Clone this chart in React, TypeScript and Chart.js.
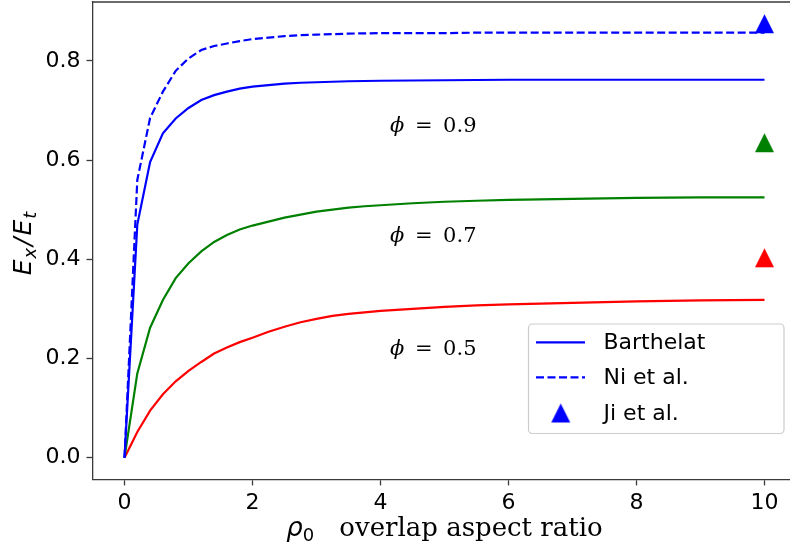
import { useEffect, useRef } from 'react';
import { Chart, registerables } from 'chart.js';

Chart.register(...registerables);

// Overlap aspect ratio samples (shared by all model curves)
const rho = [0, 0.2, 0.4, 0.6, 0.8, 1.0, 1.2, 1.4, 1.6, 1.8, 2.0, 2.25, 2.5, 2.75, 3.0, 3.25, 3.5, 3.75, 4.0, 4.5, 5.0, 5.5, 6.0, 7.0, 8.0, 9.0, 10.0];

// Barthelat model, normalised modulus E_x/E_t
const barthelat09 = [0, 0.47, 0.596, 0.654, 0.684, 0.705, 0.721, 0.731, 0.738, 0.744, 0.748, 0.751, 0.754, 0.756, 0.757, 0.758, 0.759, 0.7595, 0.760, 0.7605, 0.761, 0.7615, 0.762, 0.762, 0.762, 0.762, 0.762];
const barthelat07 = [0, 0.17, 0.262, 0.318, 0.362, 0.392, 0.416, 0.435, 0.449, 0.46, 0.468, 0.476, 0.484, 0.49, 0.496, 0.5, 0.504, 0.507, 0.509, 0.513, 0.516, 0.518, 0.52, 0.522, 0.524, 0.525, 0.525];
const barthelat05 = [0, 0.052, 0.095, 0.128, 0.154, 0.175, 0.193, 0.21, 0.222, 0.233, 0.242, 0.254, 0.264, 0.273, 0.28, 0.286, 0.29, 0.293, 0.296, 0.3, 0.304, 0.307, 0.309, 0.312, 0.315, 0.317, 0.318];

// Ni et al. model for phi = 0.9
const niEtAl09 = [0, 0.56, 0.685, 0.738, 0.78, 0.805, 0.822, 0.83, 0.835, 0.84, 0.844, 0.847, 0.85, 0.852, 0.853, 0.854, 0.855, 0.8555, 0.856, 0.856, 0.856, 0.857, 0.857, 0.857, 0.857, 0.857, 0.857];

// Ji et al. results at rho0 = 10 (phi = 0.9, 0.7, 0.5)
const jiX = 10;
const jiValues = [0.875, 0.635, 0.403];

const seriesColors = ['#0000ff', '#008000', '#ff0000'];

const xTicks = [0, 2, 4, 6, 8, 10];
const yTicks = [0, 0.2, 0.4, 0.6, 0.8];

const phiLabels = ['0.9', '0.7', '0.5'];
const phiY = [0.657, 0.434, 0.207];
const phiX = 4.15;

const legendLabels = ['Barthelat', 'Ni et al.', 'Ji et al.'];

const SPINE = '#3a3a3a';
const SANS = '"DejaVu Sans", sans-serif';
const SERIF = '"DejaVu Serif", serif';

function triangleMarker(color: string, size = 19): HTMLCanvasElement {
  const c = document.createElement('canvas');
  c.width = size + 2;
  c.height = size + 2;
  const ctx = c.getContext('2d')!;
  ctx.fillStyle = color;
  ctx.beginPath();
  ctx.moveTo(c.width / 2, 1);
  ctx.lineTo(c.width - 1, c.height - 1);
  ctx.lineTo(1, c.height - 1);
  ctx.closePath();
  ctx.fill();
  return c;
}

type Piece = { text: string; font: string; dy?: number; gap?: number };

function drawPieces(ctx: CanvasRenderingContext2D, pieces: Piece[], x: number, y: number) {
  let cx = x;
  for (const p of pieces) {
    ctx.font = p.font;
    ctx.fillText(p.text, cx, y + (p.dy || 0));
    cx += ctx.measureText(p.text).width + (p.gap || 0);
  }
  return cx - x;
}

function piecesWidth(ctx: CanvasRenderingContext2D, pieces: Piece[]) {
  let w = 0;
  for (const p of pieces) {
    ctx.font = p.font;
    w += ctx.measureText(p.text).width + (p.gap || 0);
  }
  return w;
}

const decorations = {
  id: 'decorations',
  afterDatasetsDraw(chart: Chart) {
    const { ctx, chartArea } = chart;
    const xs = chart.scales.x;
    const ys = chart.scales.y;
    ctx.save();

    // top spine
    ctx.strokeStyle = SPINE;
    ctx.lineWidth = 1.3;
    ctx.beginPath();
    ctx.moveTo(chartArea.left - 0.65, chartArea.top);
    ctx.lineTo(chartArea.right, chartArea.top);
    ctx.stroke();

    ctx.fillStyle = '#000';
    ctx.textBaseline = 'alphabetic';
    ctx.textAlign = 'left';

    // phi annotations
    phiLabels.forEach((lab, i) => {
      const px = xs.getPixelForValue(phiX);
      const py = ys.getPixelForValue(phiY[i]);
      ctx.font = `italic 21px ${SERIF}`;
      ctx.fillText('\u03D5', px, py);
      ctx.font = `21px ${SERIF}`;
      ctx.fillText('=', px + 25, py);
      ctx.fillText(lab, px + 53, py);
    });

    // x axis title, centred under the axes
    const xPieces: Piece[] = [
      { text: '\u03C1', font: `italic 26px ${SANS}` },
      { text: '0', font: `18px ${SANS}`, dy: 5, gap: 25 },
      { text: 'overlap aspect ratio', font: `26px ${SERIF}` },
    ];
    const xw = piecesWidth(ctx, xPieces);
    drawPieces(ctx, xPieces, (chartArea.left + chartArea.right) / 2 - xw / 2, 536);

    // y axis title
    const yPieces: Piece[] = [
      { text: 'E', font: `italic 25px ${SANS}`, gap: 1 },
      { text: 'x', font: `italic 18px ${SANS}`, dy: 5, gap: 2 },
      { text: '/', font: `italic 25px ${SANS}`, gap: 2 },
      { text: 'E', font: `italic 25px ${SANS}`, gap: 1 },
      { text: 't', font: `italic 18px ${SANS}`, dy: 5 },
    ];
    ctx.save();
    ctx.translate(31, 243.5);
    ctx.rotate(-Math.PI / 2);
    const w = piecesWidth(ctx, yPieces);
    drawPieces(ctx, yPieces, -w / 2, 0);
    ctx.restore();

    // legend
    const bx = 528.5, by = 324, bw = 255.5, bh = 109.5;
    ctx.beginPath();
    ctx.roundRect(bx, by, bw, bh, 4);
    ctx.fillStyle = 'rgba(255,255,255,0.8)';
    ctx.fill();
    ctx.strokeStyle = '#cccccc';
    ctx.lineWidth = 1.2;
    ctx.stroke();

    const rows = [342.3, 377.3, 413];
    ctx.strokeStyle = seriesColors[0];
    ctx.lineWidth = 2.2;
    ctx.beginPath();
    ctx.moveTo(536, rows[0]);
    ctx.lineTo(585, rows[0]);
    ctx.stroke();
    ctx.setLineDash([8, 3.5]);
    ctx.beginPath();
    ctx.moveTo(536, rows[1]);
    ctx.lineTo(585, rows[1]);
    ctx.stroke();
    ctx.setLineDash([]);
    const tri = triangleMarker(seriesColors[0]);
    ctx.drawImage(tri, 560.7 - tri.width / 2, rows[2] - tri.height / 2);

    ctx.fillStyle = '#000';
    ctx.font = `22px ${SANS}`;
    ctx.textBaseline = 'middle';
    legendLabels.forEach((lab, i) => {
      ctx.fillText(lab, 603.5, rows[i] + 1);
    });

    ctx.restore();
  },
};

export default function App() {
  const canvasRef = useRef<HTMLCanvasElement | null>(null);

  useEffect(() => {
    const canvas = canvasRef.current;
    if (!canvas) return;

    const curve = (vals: number[]) => rho.map((x, i) => ({ x, y: vals[i] }));
    const lineStyle = {
      pointRadius: 0,
      borderWidth: 2.2,
      tension: 0,
      fill: false,
    };

    const chart = new Chart(canvas, {
      type: 'line',
      data: {
        datasets: [
          { label: 'Barthelat', data: curve(barthelat09), borderColor: seriesColors[0], ...lineStyle },
          { label: 'Ni et al.', data: curve(niEtAl09), borderColor: seriesColors[0], borderDash: [8, 3.5], ...lineStyle },
          { label: 'Barthelat 0.7', data: curve(barthelat07), borderColor: seriesColors[1], ...lineStyle },
          { label: 'Barthelat 0.5', data: curve(barthelat05), borderColor: seriesColors[2], ...lineStyle },
          {
            label: 'Ji et al.',
            data: jiValues.map((y) => ({ x: jiX, y })),
            showLine: false,
            pointStyle: seriesColors.map((c) => triangleMarker(c)),
            pointRadius: 10,
            pointHoverRadius: 10,
          },
        ],
      },
      options: {
        responsive: false,
        animation: false,
        devicePixelRatio: 1,
        layout: { autoPadding: false, padding: { top: 2, right: 3.5, left: 0, bottom: 0 } },
        plugins: {
          legend: { display: false },
          tooltip: { enabled: false },
        },
        scales: {
          x: {
            type: 'linear',
            min: -0.5,
            max: 10.5,
            afterBuildTicks: (scale: any) => {
              scale.ticks = xTicks.map((value) => ({ value }));
            },
            afterFit: (scale: any) => {
              scale.height = 74.6;
              scale.paddingLeft = 0;
              scale.paddingRight = 0;
            },
            ticks: {
              font: { family: SANS, size: 22 },
              color: '#000',
              padding: 5,
              maxRotation: 0,
              callback: (v: any) => String(v),
            },
            grid: {
              display: true,
              drawOnChartArea: false,
              drawTicks: true,
              tickLength: 6,
              tickColor: SPINE,
              tickWidth: 1.3,
            },
            border: { display: true, color: SPINE, width: 1.3 },
          },
          y: {
            type: 'linear',
            min: -0.04375,
            max: 0.91875,
            afterBuildTicks: (scale: any) => {
              scale.ticks = yTicks.map((value) => ({ value }));
            },
            afterFit: (scale: any) => {
              scale.width = 92.5;
              scale.paddingTop = 0;
              scale.paddingBottom = 0;
            },
            ticks: {
              font: { family: SANS, size: 22 },
              color: '#000',
              padding: 6,
              callback: (v: any) => Number(v).toFixed(1),
            },
            grid: {
              display: true,
              drawOnChartArea: false,
              drawTicks: true,
              tickLength: 6,
              tickColor: SPINE,
              tickWidth: 1.3,
            },
            border: { display: true, color: SPINE, width: 1.3 },
          },
        },
      },
      plugins: [decorations],
    });

    return () => chart.destroy();
  }, []);

  return (
    <div
      style={{
        position: 'fixed',
        left: 0,
        top: 0,
        width: 790,
        height: 554,
        overflow: 'hidden',
        background: '#fff',
      }}
    >
      <canvas ref={canvasRef} width={800} height={554} style={{ display: 'block', width: 800, height: 554 }} />
    </div>
  );
}
